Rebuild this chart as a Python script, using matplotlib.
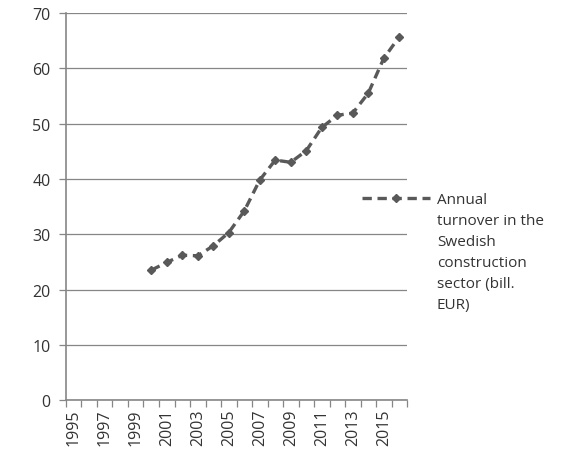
import numpy as np
import matplotlib.pyplot as plt
from matplotlib.lines import Line2D

plt.rcParams['font.family'] = ['Open Sans', 'DejaVu Sans']

years = list(range(1995, 2017))
data_years = list(range(2000, 2017))
turnover = [23.5, 24.9, 26.2, 26.1, 27.9, 30.3, 34.2, 39.8, 43.4, 43.0,
            45.1, 49.3, 51.5, 51.9, 55.5, 61.8, 65.7]
series_label = "Annual\nturnover in the\nSwedish\nconstruction\nsector (bill.\nEUR)"

axis_col = "#868686"
text_col = "#333333"
line_col = "#595959"
line_style = dict(linestyle=(0, (2.8, 1.7)), color=line_col, linewidth=2.4,
                  marker="D", markersize=4.5, markerfacecolor=line_col,
                  markeredgecolor=line_col)

fig = plt.figure(figsize=(5.65, 4.6), dpi=100)
ax = fig.add_axes([0.1168, 0.128, 0.6036, 0.8416])

xpos = [years.index(y) for y in data_years]
ax.plot(xpos, turnover, **line_style)

ax.set_xlim(-0.5, len(years) - 0.5)
ax.set_ylim(0, 70)
ax.set_yticks(np.arange(0, 71, 10))
ax.yaxis.grid(True, color=axis_col, linewidth=0.9)
ax.set_axisbelow(True)

ax.set_xticks(range(0, len(years), 2))
ax.set_xticklabels([str(y) for y in years[::2]], rotation=90)
ax.set_xticks(np.arange(-0.5, len(years), 1), minor=True)
ax.tick_params(axis="x", which="major", length=0, pad=6, labelsize=11.5, labelcolor=text_col)
ax.tick_params(axis="x", which="minor", length=5, color=axis_col, width=0.9)
ax.tick_params(axis="y", length=5, color=axis_col, width=0.9, labelsize=11.5,
               labelcolor=text_col, pad=6)

for s in ["top", "right"]:
    ax.spines[s].set_visible(False)
for s in ["left", "bottom"]:
    ax.spines[s].set_color(axis_col)
    ax.spines[s].set_linewidth(1.2)

# legend entry drawn by hand so the sample sits beside the first text line
leg_y = 1 - 199 / 460
sample = Line2D([362 / 565, 396 / 565, 430 / 565], [leg_y, leg_y, leg_y],
                transform=fig.transFigure, markevery=[1], **line_style)
fig.add_artist(sample)
fig.text(437 / 565, leg_y + 6 / 460, series_label, ha="left", va="top",
         fontsize=11, color=text_col, linespacing=1.55)

fig.savefig("out.png", dpi=100)
